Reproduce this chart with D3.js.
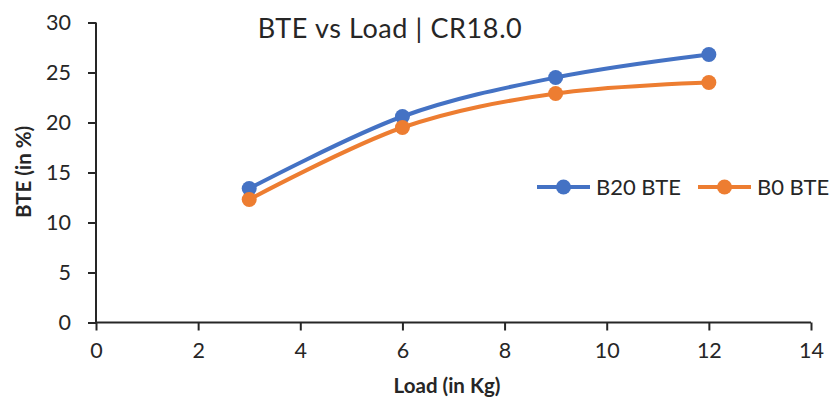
<!DOCTYPE html>
<html>
<head>
<meta charset="utf-8">
<script src="https://cdn.jsdelivr.net/npm/d3@7"></script>
<style>
    body { margin: 0; background: #fff; }
    text { font-family: Lato, "Open Sans", sans-serif; fill: #262626; }
</style>
</head>
<body>
<script>
var loads = [3, 6, 9, 12];
var b20Bte = [13.4, 20.6, 24.5, 26.8];
var b0Bte = [12.3, 19.5, 22.9, 24.0];
var xTicks = [0, 2, 4, 6, 8, 10, 12, 14];
var yTicks = [0, 5, 10, 15, 20, 25, 30];
var seriesNames = ["B20 BTE", "B0 BTE"];
var colors = ["#4472C4", "#ED7D31"];

var width = 833,
    height = 400;

var margin = {
    top: 22.5,
    right: 22,
    bottom: 77.5,
    left: 96
};

var svg = d3.select("body").append("svg")
    .attr("width", width)
    .attr("height", height);

var x = d3.scaleLinear()
    .domain([0, 14])
    .range([margin.left, width - margin.right]);

var y = d3.scaleLinear()
    .domain([0, 30])
    .range([height - margin.bottom, margin.top]);

// axes
var xAxis = svg.append("g")
    .attr("transform", "translate(0," + y(0) + ")")
    .call(d3.axisBottom(x).tickValues(xTicks).tickSize(8).tickPadding(12));

var yAxis = svg.append("g")
    .attr("transform", "translate(" + x(0) + ",0)")
    .call(d3.axisLeft(y).tickValues(yTicks).tickSize(8).tickPadding(17));

[xAxis, yAxis].forEach(function(a) {
    a.select(".domain").attr("stroke", "#262626").attr("stroke-width", 2);
    a.selectAll(".tick line").attr("stroke", "#262626").attr("stroke-width", 2);
    a.selectAll(".tick text")
        .style("font-family", "Lato, sans-serif")
        .style("font-size", "21.5px")
        .attr("fill", "#262626");
});
// plain domain lines, no outer stubs
yAxis.select(".domain").attr("d", "M0," + y(30) + "V" + y(0));
xAxis.select(".domain").attr("d", "M" + x(0) + ",0H" + x(14));

// titles
svg.append("text")
    .attr("x", 390)
    .attr("y", 38)
    .attr("text-anchor", "middle")
    .style("font-size", "27px")
    .style("letter-spacing", "0.6px")
    .text("BTE vs Load | CR18.0");

svg.append("text")
    .attr("x", 447)
    .attr("y", 393)
    .attr("text-anchor", "middle")
    .style("font-size", "20.5px")
    .style("font-weight", "bold")
    .text("Load (in Kg)");

svg.append("text")
    .attr("transform", "translate(31,172) rotate(-90)")
    .attr("text-anchor", "middle")
    .style("font-size", "20.5px")
    .style("font-weight", "bold")
    .text("BTE (in %)");

// series
var series = [b20Bte, b0Bte];
var line = d3.line()
    .x(function(d) { return x(d[0]); })
    .y(function(d) { return y(d[1]); })
    .curve(d3.curveCardinal.tension(0));

series.forEach(function(vals, i) {
    var pts = loads.map(function(l, j) { return [l, vals[j]]; });
    var g = svg.append("g");
    g.append("path")
        .attr("d", line(pts))
        .attr("fill", "none")
        .attr("stroke", colors[i])
        .attr("stroke-width", 4)
        .attr("stroke-linecap", "round");
    g.selectAll("circle")
        .data(pts)
        .enter().append("circle")
        .attr("cx", function(d) { return x(d[0]); })
        .attr("cy", function(d) { return y(d[1]); })
        .attr("r", 7.5)
        .attr("fill", colors[i]);
});

// legend
var legendX = [537, 698];
seriesNames.forEach(function(name, i) {
    var lg = svg.append("g")
        .attr("transform", "translate(" + legendX[i] + ",187)");
    lg.append("line")
        .attr("x1", 0).attr("x2", 53)
        .attr("stroke", colors[i])
        .attr("stroke-width", 4);
    lg.append("circle")
        .attr("cx", 26.5)
        .attr("r", 7.5)
        .attr("fill", colors[i]);
    lg.append("text")
        .attr("x", 59)
        .attr("y", 8)
        .style("font-size", "22px")
        .text(name);
});
</script>
</body>
</html>
